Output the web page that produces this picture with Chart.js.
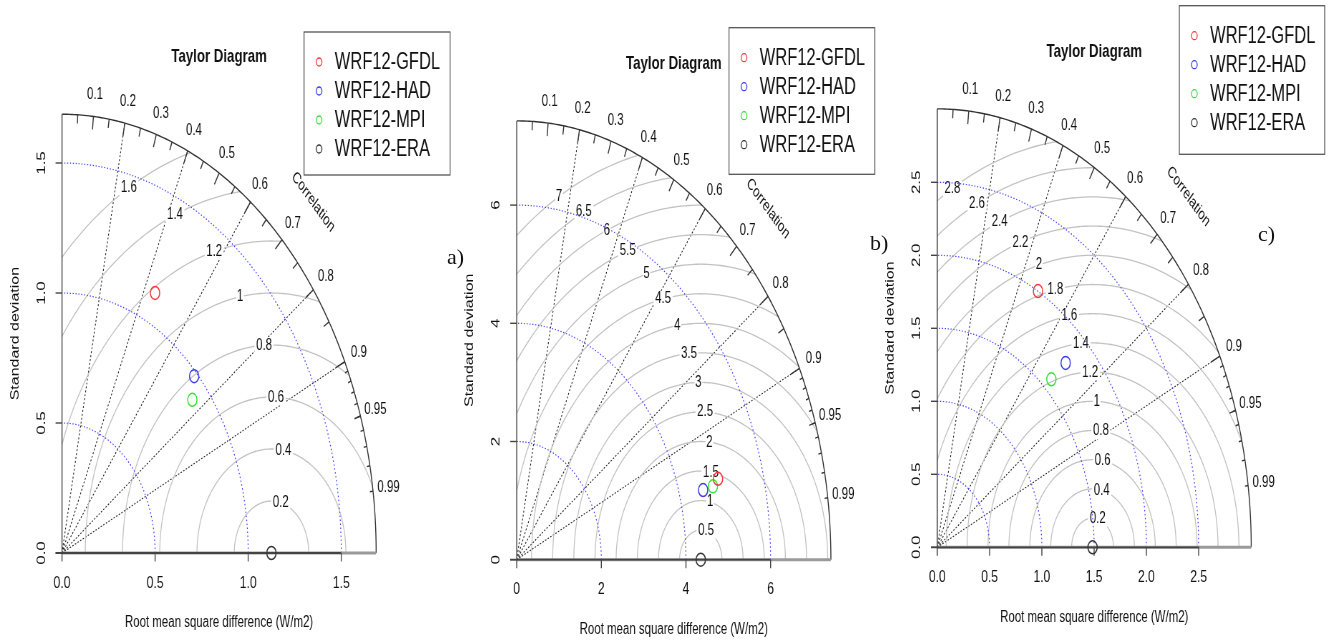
<!DOCTYPE html>
<html>
<head>
<meta charset="utf-8">
<script src="https://cdn.jsdelivr.net/npm/chart.js@4.4.1/dist/chart.umd.min.js"></script>
<style>
  body { margin: 0; background: #fff; width: 1331px; height: 640px; overflow: hidden; position: relative; }
  .panel { position: absolute; top: 0; transform: scaleX(0.716); transform-origin: 0 0; }
  .tag { position: absolute; font: 22px "Liberation Serif", "Times New Roman", serif; line-height: 22px; color: #111; }
</style>
</head>
<body>
<div class="panel" style="left:0px"><canvas id="ta" width="640" height="640"></canvas></div>
<div class="panel" style="left:440px"><canvas id="tb" width="620" height="640"></canvas></div>
<div class="panel" style="left:870px"><canvas id="tc" width="644" height="640"></canvas></div>
<div class="tag" style="left:447px;top:246px">a)</div>
<div class="tag" style="left:870px;top:232px">b)</div>
<div class="tag" style="left:1258px;top:223px">c)</div>
<script>
// series names and colours (same in every panel)
const models = ['WRF12-GFDL', 'WRF12-HAD', 'WRF12-MPI', 'WRF12-ERA'];
const modelColors = ['#f23a3a', '#3a3af2', '#3ade3a', '#333333'];

// panel a: standard deviation and correlation of each series
const sdA = [1.118, 0.983, 0.915, 1.125];
const corA = [0.447, 0.722, 0.765, 1.0];
const gammaA = [0.2, 0.4, 0.6, 0.8, 1, 1.2, 1.4, 1.6];
const sdTicksA = [0, 0.5, 1.0, 1.5];

// panel b
const sdB = [4.95, 4.56, 4.80, 4.35];
const corB = [0.961, 0.966, 0.966, 1.0];
const gammaB = [0.5, 1, 1.5, 2, 2.5, 3, 3.5, 4, 4.5, 5, 5.5, 6, 6.5, 7];
const sdTicksB = [0, 2, 4, 6];

// panel c
const sdC = [2.002, 1.761, 1.586, 1.485];
const corC = [0.481, 0.697, 0.688, 1.0];
const gammaC = [0.2, 0.4, 0.6, 0.8, 1, 1.2, 1.4, 1.6, 1.8, 2, 2.2, 2.4, 2.6, 2.8];
const sdTicksC = [0, 0.5, 1.0, 1.5, 2.0, 2.5];

// correlation axis
const corLabels = [0.1, 0.2, 0.3, 0.4, 0.5, 0.6, 0.7, 0.8, 0.9, 0.95, 0.99];
const corLines = [0.2, 0.4, 0.6, 0.8, 0.9];

const FONT = '"Liberation Sans", Arial, sans-serif';

function taylorPlugin(cfg) {
    return {
        id: 'taylor',
        beforeDatasetsDraw(chart) {
            const ctx = chart.ctx;
            const xs = chart.scales.x, ys = chart.scales.y;
            const m = cfg.maxsd, ref = cfg.refSd;
            const P = (x, y) => [xs.getPixelForValue(x), ys.getPixelForValue(y)];
            const path = (pts) => {
                ctx.beginPath();
                pts.forEach((q, i) => i ? ctx.lineTo(q[0], q[1]) : ctx.moveTo(q[0], q[1]));
            };
            const arc = (cx, r, a0, a1) => {
                const pts = [];
                for (let k = 0; k <= 200; k++) {
                    const a = a0 + (a1 - a0) * k / 200;
                    pts.push(P(cx + r * Math.cos(a), r * Math.sin(a)));
                }
                return pts;
            };
            const text = (str, x, y, size, rot) => {
                ctx.save();
                ctx.translate(x, y);
                ctx.rotate(rot || 0);
                ctx.font = size + 'px ' + FONT;
                ctx.fillStyle = '#111';
                ctx.textAlign = 'center';
                ctx.textBaseline = 'middle';
                ctx.fillText(str, 0, 0);
                ctx.restore();
            };
            const o = P(0, 0);

            // radial correlation lines and centred rms arcs, clipped to the quarter
            ctx.save();
            path([o, ...arc(0, m, 0, Math.PI / 2)]);
            ctx.closePath();
            ctx.clip();
            ctx.strokeStyle = '#222';
            ctx.lineWidth = 1.1;
            ctx.setLineDash([2, 2]);
            corLines.forEach(c => {
                path([o, P(m * c, m * Math.sqrt(1 - c * c))]);
                ctx.stroke();
            });
            ctx.setLineDash([]);
            ctx.strokeStyle = '#c2c2c2';
            ctx.lineWidth = 1.3;
            cfg.gamma.forEach(g => {
                path(arc(ref, g, 0, Math.PI));
                ctx.stroke();
            });
            ctx.restore();

            // rms labels in white boxes
            const n = cfg.gamma.length;
            cfg.gamma.forEach((g, i) => {
                const idx = Math.floor(45 + i * 25 / (n - 1) + 1e-9);
                const a = (idx - 1) * 0.03;
                const x = ref + g * Math.cos(a);
                if (x <= 0) return;
                const q = P(x, g * Math.sin(a));
                ctx.font = '16px ' + FONT;
                const w = ctx.measureText(String(g)).width;
                ctx.fillStyle = '#fff';
                ctx.fillRect(q[0] - w * 0.6, q[1] - 8, w * 1.2, 16);
                text(String(g), q[0], q[1], 16);
            });

            // standard deviation arcs
            ctx.save();
            ctx.strokeStyle = '#3b3bff';
            ctx.lineWidth = 1.2;
            ctx.setLineDash([1.5, 2.5]);
            cfg.sdTicks.filter(v => v > 0).forEach(s => {
                path(arc(0, s, 0, Math.PI / 2));
                ctx.stroke();
            });
            ctx.restore();

            // outer arc with correlation ticks
            ctx.strokeStyle = '#333';
            ctx.lineWidth = 1.4;
            path(arc(0, m, 0, Math.PI / 2));
            ctx.stroke();
            const tick = (c, f) => {
                const s = Math.sqrt(1 - c * c);
                path([P(m * c, m * s), P(f * m * c, f * m * s)]);
                ctx.stroke();
            };
            for (let k = 1; k <= 9; k++) tick(k / 10, 0.97);
            for (let k = 0; k <= 9; k++) tick(0.05 + k / 10, 0.98);
            for (let k = 1; k <= 9; k++) tick(0.9 + k / 100, 0.99);
            corLabels.forEach(c => {
                const q = P(1.05 * m * c, 1.05 * m * Math.sqrt(1 - c * c));
                text(String(c), q[0], q[1], 16);
            });
            const cq = P(0.8 * m, 0.8 * m);
            text('Correlation', cq[0], cq[1], 16, Math.PI / 4);

            // axes
            const last = cfg.sdTicks[cfg.sdTicks.length - 1];
            const dec = cfg.sdTicks.some(v => v % 1 !== 0) ? 1 : 0;
            ctx.strokeStyle = '#9a9a9a';
            ctx.lineWidth = 3;
            path([o, P(m, 0)]);
            ctx.stroke();
            ctx.strokeStyle = '#444';
            ctx.lineWidth = 1.8;
            path([[o[0] - 9, o[1]], P(last, 0)]);
            ctx.stroke();
            ctx.lineWidth = 1.4;
            path([o, P(0, m)]);
            ctx.stroke();
            cfg.sdTicks.forEach(v => {
                const qx = P(v, 0), qy = P(0, v);
                path([qx, [qx[0], qx[1] + 8.5]]);
                ctx.stroke();
                path([qy, [qy[0] - 9, qy[1]]]);
                ctx.stroke();
                text(v.toFixed(dec), qx[0], qx[1] + 30, 17);
                text(v.toFixed(dec), qy[0] - 28.5, qy[1], 17, -Math.PI / 2);
            });
            const area = chart.chartArea;
            const midX = (area.left + area.right) / 2, midY = (area.top + area.bottom) / 2;
            text('Root mean square difference (W/m2)', midX, o[1] + 70, 16);
            text('Standard deviation', o[0] - 65.5, midY, 16, -Math.PI / 2);
            ctx.save();
            ctx.font = 'bold 18.5px ' + FONT;
            ctx.fillStyle = '#111';
            ctx.textAlign = 'center';
            ctx.textBaseline = 'middle';
            ctx.fillText('Taylor Diagram', midX, area.top - 57);
            ctx.restore();
        },
        afterDraw(chart) {
            const ctx = chart.ctx;
            const [lx, ly, lw, lh] = cfg.legend;
            ctx.save();
            ctx.fillStyle = '#fff';
            ctx.fillRect(lx, ly, lw, lh);
            ctx.strokeStyle = '#555';
            ctx.lineWidth = 1.3;
            ctx.strokeRect(lx, ly, lw, lh);
            models.forEach((name, i) => {
                const y = ly + 30 + 29 * i;
                ctx.beginPath();
                ctx.arc(lx + 21, y, 4, 0, Math.PI * 2);
                ctx.strokeStyle = modelColors[i];
                ctx.lineWidth = 1.3;
                ctx.stroke();
                ctx.font = '23px ' + FONT;
                ctx.fillStyle = '#111';
                ctx.textAlign = 'left';
                ctx.textBaseline = 'middle';
                ctx.fillText(name, lx + 43, y + 1);
            });
            ctx.restore();
        }
    };
}

function makeTaylor(id, sd, cor, gamma, sdTicks, lay) {
    const canvas = document.getElementById(id);
    const W = canvas.width, H = canvas.height;
    const maxsd = 1.5 * Math.max(...sd);
    const refSd = sd[sd.length - 1];
    const span = maxsd * lay.unit;
    new Chart(canvas, {
        type: 'scatter',
        data: {
            datasets: models.map((name, i) => ({
                label: name,
                data: [{ x: sd[i] * cor[i], y: sd[i] * Math.sqrt(1 - cor[i] * cor[i]) }],
                pointStyle: 'circle',
                pointRadius: 6.5,
                pointHoverRadius: 6.5,
                pointBorderWidth: 1.5,
                borderColor: modelColors[i],
                backgroundColor: 'rgba(0,0,0,0)',
                clip: false
            }))
        },
        options: {
            responsive: false,
            animation: false,
            events: [],
            layout: { padding: { left: lay.ox, top: lay.oy - span, right: W - lay.ox - span, bottom: H - lay.oy } },
            scales: {
                x: { type: 'linear', min: 0, max: maxsd, display: false },
                y: { type: 'linear', min: 0, max: maxsd, display: false }
            },
            plugins: { legend: { display: false }, tooltip: { enabled: false }, title: { display: false } }
        },
        plugins: [taylorPlugin({ maxsd, refSd, gamma, sdTicks, legend: lay.legend })]
    });
}

makeTaylor('ta', sdA, corA, gammaA, sdTicksA, { ox: 86.6, oy: 553, unit: 260, legend: [424.6, 32, 204, 143] });
makeTaylor('tb', sdB, corB, gammaB, sdTicksB, { ox: 107.1, oy: 559.7, unit: 59.1, legend: [403.6, 27.7, 203.5, 146.6] });
makeTaylor('tc', sdC, corC, gammaC, sdTicksC, { ox: 94.0, oy: 547.3, unit: 146, legend: [432, 5.7, 203, 148.6] });
</script>
</body>
</html>
